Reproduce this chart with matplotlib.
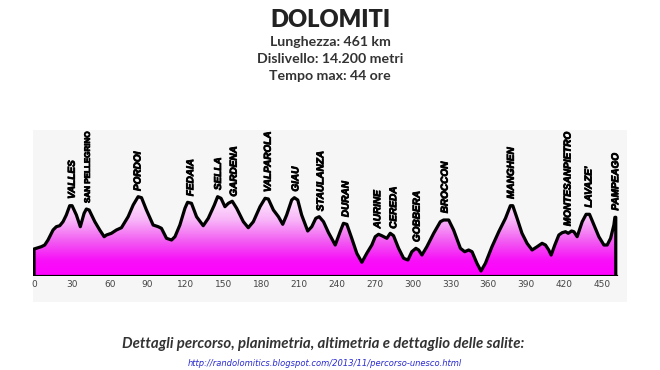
import numpy as np
import matplotlib
matplotlib.use("Agg")
import matplotlib.pyplot as plt
import matplotlib.patheffects as pe
from matplotlib.colors import LinearSegmentedColormap

# route profile (km, m)
dist_km = [0, 5.8, 8.5, 11.1, 15.1, 17.7, 20.4, 23.0, 25.6, 28.3,
           30.2, 33.6, 36.7, 39.7, 41.5, 43.7, 48.2, 52.1, 55.6, 57.4,
           61.3, 65.3, 69.3, 74.6, 78.6, 82.5, 85.2, 89.1, 94.4, 98.4,
           101.0, 105.0, 109.0, 111.7, 115.6, 119.6, 121.7, 124.8, 128.8, 134.1,
           138.1, 142.9, 145.5, 148.2, 151.3, 154.0, 157.1, 160.6, 165.9, 169.8,
           173.8, 179.1, 183.1, 185.7, 189.7, 193.7, 197.1, 200.2, 204.2, 206.3,
           209.0, 212.1, 216.9, 220.1, 223.3, 226.0, 229.4, 233.3, 238.7, 242.6,
           245.2, 247.9, 251.8, 255.8, 259.8, 263.7, 267.7, 270.4, 273.0, 275.6,
           279.6, 282.3, 284.9, 288.9, 292.9, 296.3, 299.4, 302.6, 304.8, 307.4,
           311.3, 316.7, 322.0, 324.6, 328.6, 332.5, 337.9, 341.3, 344.4, 347.1,
           351.0, 354.2, 357.7, 362.9, 368.3, 373.6, 377.5, 379.4, 382.8, 386.7,
           390.7, 394.7, 398.7, 402.6, 405.3, 407.9, 409.8, 412.7, 415.9, 418.5,
           421.2, 423.3, 426.0, 427.8, 430.4, 434.4, 437.5, 440.2, 443.7, 447.6,
           451.6, 454.2, 456.9, 459.5, 460.3, 461]
elev_m = [1036, 1089, 1128, 1243, 1473, 1549, 1572, 1664, 1818, 2032,
          2032, 1818, 1549, 1857, 1956, 1933, 1664, 1473, 1319, 1358,
          1397, 1473, 1526, 1779, 2048, 2239, 2216, 1933, 1588, 1549,
          1512, 1282, 1243, 1319, 1588, 1972, 2110, 2087, 1779, 1572,
          1742, 2048, 2239, 2202, 2009, 2087, 2135, 1972, 1664, 1526,
          1664, 2009, 2202, 2186, 1933, 1779, 1604, 1818, 2163, 2216,
          2163, 1818, 1450, 1549, 1742, 1779, 1664, 1416, 1128, 1434,
          1627, 1604, 1282, 937, 730, 937, 1128, 1319, 1374, 1342,
          1282, 1397, 1342, 1052, 822, 783, 974, 1052, 1013, 898,
          1089, 1397, 1664, 1703, 1703, 1473, 1052, 974, 1013, 974,
          707, 530, 707, 1089, 1434, 1742, 2032, 2032, 1742, 1397,
          1167, 1013, 1089, 1167, 1128, 1013, 898, 1128, 1358, 1411,
          1434, 1397, 1450, 1434, 1319, 1664, 1834, 1834, 1588, 1319,
          1128, 1128, 1282, 1588, 1765, 1765]

pass_names = ["VALLES", "SAN PELLEGRINO", "PORDOI", "FEDAIA", "SELLA", "GARDENA",
              "VALPAROLA", "GIAU", "STAULANZA", "DURAN", "AURINE", "CEREDA",
              "GOBBERA", "BROCCON", "MANGHEN", "MONTESANPIETRO", "LAVAZE'", "PAMPEAGO"]
pass_km = [29.9, 43.1, 82.0, 123.8, 145.8, 158.2, 185.2, 207.1, 226.9, 246.8,
           272.0, 284.7, 303.2, 325.4, 377.8, 422.8, 439.4, 460.6]

km_ticks = list(range(0, 451, 30))

title = "DOLOMITI"
info_lines = ["Lunghezza: 461 km", "Dislivello: 14.200 metri", "Tempo max: 44 ore"]
footer = "Dettagli percorso, planimetria, altimetria e dettaglio delle salite:"
link = "http://randolomitics.blogspot.com/2013/11/percorso-unesco.html"

base_m = 415

fig = plt.figure(figsize=(6.6, 3.7), dpi=100)
fig.patch.set_facecolor("white")

# light grey panel behind the profile
bg = fig.add_axes([33 / 660, (370 - 302) / 370, 594 / 660, 172 / 370])
bg.set_facecolor("#f6f6f6")
bg.set_xticks([])
bg.set_yticks([])
for s in bg.spines.values():
    s.set_visible(False)

ax = fig.add_axes([33 / 660, (370 - 276) / 370, 594 / 660, 146 / 370])
ax.set_facecolor("none")

x = np.array(dist_km)
y = np.array(elev_m)

# polygon of the profile, used for the gradient clip
px = np.concatenate([[x[0]], x, [x[-1]]])
py = np.concatenate([[base_m], y, [base_m]])
poly = ax.fill(px, py, facecolor="none", edgecolor="none")[0]

cmap = LinearSegmentedColormap.from_list(
    "pinkfade", [(0.0, "#ff00ff"), (0.2, "#f812f8"), (0.42, "#f25af2"),
                 (0.68, "#f8b4f8"), (1.0, "#fff6ff")])
grad = np.linspace(0, 1, 256).reshape(-1, 1)
im = ax.imshow(grad, extent=[0, 461, base_m, 2300], origin="lower",
               cmap=cmap, aspect="auto", zorder=1)
im.set_clip_path(poly)

ax.plot(px, py, color="black", lw=2.3, solid_joinstyle="round", zorder=3)
ax.plot([x[0], x[-1]], [base_m, base_m], color="black", lw=2.3, zorder=3)

heavy = [pe.withStroke(linewidth=0.6, foreground="black")]
for name, km in zip(pass_names, pass_km):
    top = np.interp(km, x, y)
    small = name == "SAN PELLEGRINO"
    ax.text(km, top + 155, name, rotation=90, ha="center", va="bottom",
            fontsize=5.8 if small else 7.2,
            fontstyle="normal" if small else "italic",
            fontweight="bold", family="Liberation Sans", color="black",
            path_effects=heavy, zorder=4)

ax.set_xlim(-0.79, 469.9)
ax.set_ylim(base_m, base_m + 146 * 23)
ax.set_xticks(km_ticks)
ax.set_yticks([])
ax.tick_params(axis="x", length=0, pad=3, labelsize=6.5, labelcolor="#444444")
for s in ax.spines.values():
    s.set_visible(False)

fig.text(0.5, 1 - 20 / 370, title, ha="center", va="center", fontsize=17,
         fontweight="heavy", family="Lato", color="#222222")
for i, line in enumerate(info_lines):
    fig.text(0.5, 1 - (42 + 17 * i) / 370, line, ha="center", va="center",
             fontsize=10.2, fontweight="bold", family="Lato", color="#333333")

fig.text(323 / 660, 1 - 344 / 370, footer, ha="center", va="center", fontsize=10.8,
         fontweight="bold", fontstyle="italic", family="Lato", color="#333333")
fig.text(325 / 660, 1 - 363 / 370, link, ha="center", va="center", fontsize=6.0,
         fontstyle="italic", family="DejaVu Sans", color="#2a2ad0")

fig.savefig("out.png", dpi=100)
